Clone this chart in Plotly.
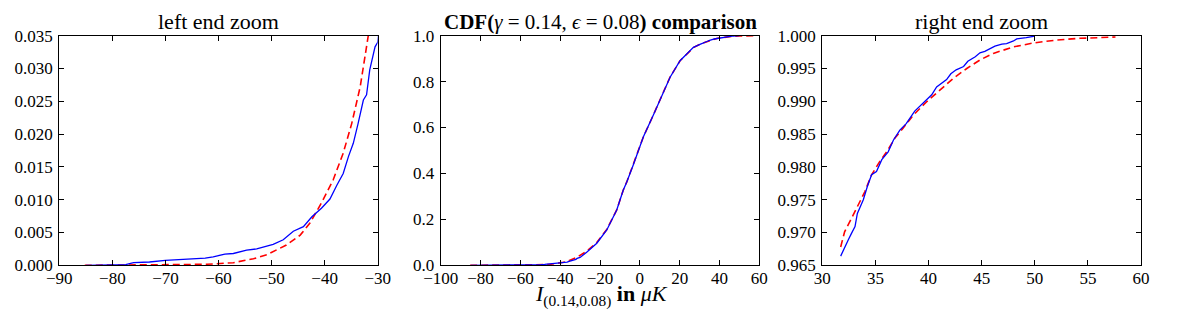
import plotly.graph_objects as go

# Empirical CDF (blue, solid)
emp_x = [-85, -80, -77.5, -76, -73, -70, -67, -65, -62.5, -61, -59.7, -58.8, -57.2, -54.7,
         -52.8, -50.9, -49.7, -47.8, -45.9, -44, -42.4, -40.6, -39, -37.7, -36.5, -35.5,
         -34.6, -33.7, -32.7, -32.1, -31.5, -30.5, -30.0, -26.7, -21.6, -16.6, -11.6,
         -8.3, -6.6, -3.3, 0, 1.8, 6.8, 10.1, 11.8, 15.2, 20.2, 26.9, 30.2,
         31.73, 32.04, 32.45, 32.76, 33.08, 33.3, 33.86, 34.24, 34.64, 35.1, 35.6, 36.2,
         36.7, 37.3, 37.9, 38.7, 39.5, 40.3, 40.76, 41.23, 41.7, 42.1, 42.6, 43.3, 43.7,
         44.4, 44.84, 45.3, 45.9, 46.25, 46.9, 47.35, 48.0, 48.3, 49.2, 50.0]
emp_y = [0.0, 0.00005, 0.0001, 0.0004, 0.0005, 0.00075, 0.0009, 0.001, 0.0011, 0.0013,
         0.0015, 0.0017, 0.0018, 0.0023, 0.0025, 0.0029, 0.0032, 0.0039, 0.0052, 0.0059,
         0.0074, 0.0087, 0.0101, 0.0122, 0.014, 0.0166, 0.0186, 0.0216, 0.0252, 0.026,
         0.0298, 0.0333, 0.0340, 0.057, 0.096, 0.154, 0.241,
         0.328, 0.362, 0.437, 0.517, 0.56, 0.655, 0.718, 0.752, 0.819, 0.891, 0.949, 0.962,
         0.9664, 0.9676, 0.9689, 0.9699, 0.9709, 0.9729, 0.9750, 0.977, 0.9788,
         0.9793, 0.9811, 0.9823, 0.9841, 0.9856, 0.9866, 0.9885, 0.9897, 0.991, 0.9922,
         0.9928, 0.9933, 0.9942, 0.9948, 0.9953, 0.9961, 0.9968, 0.9974, 0.9976, 0.9981,
         0.9984, 0.9987, 0.9988, 0.9992, 0.9995, 0.9997, 0.99995]

# Theoretical CDF (red, dashed)
th_x = [-85.2, -75, -69.8, -62.2, -57.2, -53.4, -50.9, -47.2, -44.6, -42.8, -40.6, -38.4,
        -36.5, -34.9, -33.3, -32.1, -31.6, -30, -26.7, -21.6, -16.6, -11.6, -8.3, -6.6,
        -3.3, 0, 1.8, 6.8, 10.1, 11.8, 15.2, 20.2, 26.9, 30.2,
        31.73, 32.1, 32.76, 33.4, 34.0, 34.64, 35.4, 36.06, 36.84, 37.6, 38.57, 39.8,
        41.08, 42.33, 43.6, 44.84, 46.1, 48.0, 49.9, 52.06, 54.25, 56.1, 57.6]
th_y = [0.0, 0.00002, 0.00005, 0.00015, 0.0004, 0.001, 0.0016, 0.0031, 0.0046, 0.0064,
        0.0095, 0.013, 0.0171, 0.0216, 0.0272, 0.0328, 0.0349, 0.043, 0.061, 0.099,
        0.156, 0.241, 0.328, 0.362, 0.437, 0.517, 0.56, 0.655, 0.718, 0.752, 0.82,
        0.891, 0.948, 0.963,
        0.9678, 0.9701, 0.9722, 0.9742, 0.9762, 0.9788, 0.9808, 0.9823, 0.9844, 0.9859,
        0.9879, 0.9899, 0.9917, 0.9935, 0.995, 0.9963, 0.9973, 0.9983, 0.9989, 0.99934,
        0.9996, 0.99975, 0.9998]

titles = ["left end zoom",
          "<b>CDF(</b><i>γ</i> = 0.14, <i>ϵ</i> = 0.08<b>) comparison</b>",
          "right end zoom"]
title_sizes = [22, 21, 22]
x_label = "<i>I</i><sub>(0.14,0.08)</sub> <b>in</b> <i>μK</i>"

left_xticks = [-90, -80, -70, -60, -50, -40, -30]
left_yticks = [0.0, 0.005, 0.01, 0.015, 0.02, 0.025, 0.03, 0.035]
mid_xticks = [-100, -80, -60, -40, -20, 0, 20, 40, 60]
mid_yticks = [0.0, 0.2, 0.4, 0.6, 0.8, 1.0]
right_xticks = [30, 35, 40, 45, 50, 55, 60]
right_yticks = [0.965, 0.97, 0.975, 0.98, 0.985, 0.99, 0.995, 1.0]

# the page body has an 8px default margin, so the figure is offset by 8px
OFF = 8
W, H = 1186 - OFF, 321 - OFF
FONT = "Liberation Serif"
TICKFONT = dict(family=FONT, size=17, color="black")

panels_px = [(59.3 - OFF, 377.7 - OFF), (440.7 - OFF, 759.3 - OFF), (822.3 - OFF, 1141.0 - OFF)]
top_px, bot_px = 35.7 - OFF, 265.3 - OFF
ydom = [(H - bot_px) / H, (H - top_px) / H]

fig = go.Figure()

def add_lines(i, fx=lambda v: True):
    ax = "" if i == 1 else str(i)
    ex = [x for x in emp_x if fx(x)]
    ey = [y for x, y in zip(emp_x, emp_y) if fx(x)]
    tx = [x for x in th_x if fx(x)]
    ty = [y for x, y in zip(th_x, th_y) if fx(x)]
    fig.add_trace(go.Scatter(x=tx, y=ty, mode="lines", xaxis="x" + ax, yaxis="y" + ax,
                             line=dict(color="#ff0000", width=1.6, dash="7px,4px"),
                             showlegend=False, hoverinfo="skip"))
    fig.add_trace(go.Scatter(x=ex, y=ey, mode="lines", xaxis="x" + ax, yaxis="y" + ax,
                             line=dict(color="#0000ff", width=1.3),
                             showlegend=False, hoverinfo="skip"))

add_lines(1)
add_lines(2)
add_lines(3, lambda v: v >= 31.7)

xr = [(-90, -30), (-100, 60), (30, 60)]
yr = [(0, 0.035), (0, 1.0), (0.965, 1.0)]
xt = [left_xticks, mid_xticks, right_xticks]
yt = [left_yticks, mid_yticks, right_yticks]
yfmt = [".3f", ".1f", ".3f"]

fig.update_layout(width=W, height=H, margin=dict(l=0, r=0, t=0, b=0),
                  paper_bgcolor="white", plot_bgcolor="white", showlegend=False,
                  font=dict(family=FONT, size=17, color="black"))

for i in range(3):
    ax = "" if i == 0 else str(i + 1)
    fig.update_layout(**{
        "xaxis" + ax: dict(domain=[panels_px[i][0] / W, panels_px[i][1] / W],
                           range=list(xr[i]), tickvals=xt[i], tickformat="d",
                           anchor="y" + ax),
        "yaxis" + ax: dict(domain=ydom, range=list(yr[i]), tickvals=yt[i],
                           tickformat=yfmt[i], anchor="x" + ax),
    })

common = dict(showgrid=False, zeroline=False, showline=True, linecolor="black",
              linewidth=1.2, mirror="ticks", ticks="inside", ticklen=5,
              tickwidth=1, tickcolor="black", tickfont=TICKFONT,
              automargin=False, fixedrange=True)
fig.update_xaxes(**common, ticklabelstandoff=-3)
fig.update_yaxes(**common, ticklabelstandoff=2)

annotations = []
for i in range(3):
    cx = (panels_px[i][0] + panels_px[i][1]) / 2 / W
    annotations.append(dict(text=titles[i], x=cx, y=(H - (36 - OFF)) / H, xref="paper",
                            yref="paper", xanchor="center", yanchor="bottom", showarrow=False,
                            font=dict(family=FONT, size=title_sizes[i], color="black")))
annotations.append(dict(text=x_label, x=(601 - OFF) / W, y=(H - (295 - OFF)) / H,
                        xref="paper", yref="paper", xanchor="center", yanchor="middle",
                        showarrow=False, font=dict(family=FONT, size=22, color="black")))
fig.update_layout(annotations=annotations)

fig.write_html("out.html")
